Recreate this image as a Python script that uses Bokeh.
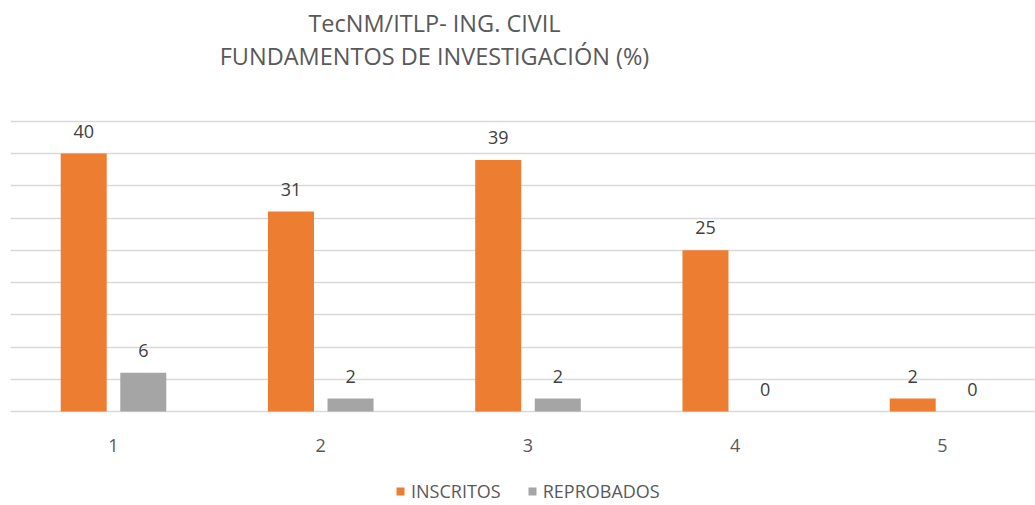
from bokeh.plotting import figure
from bokeh.models import (ColumnDataSource, LabelSet, Label, Legend, LegendItem,
                          FixedTicker, Range1d)
from bokeh.core.properties import value
from bokeh.embed import file_html
from bokeh.resources import INLINE

categories = ["1", "2", "3", "4", "5"]
inscritos = [40, 31, 39, 25, 2]
reprobados = [6, 2, 2, 0, 0]
series_names = ["INSCRITOS", "REPROBADOS"]
title_lines = ["TecNM/ITLP- ING. CIVIL", "FUNDAMENTOS DE INVESTIGACIÓN (%)"]
grid_ticks = [0, 5, 10, 15, 20, 25, 30, 35, 40, 45]

FONT = "Open Sans"
ORANGE = "#ED7D31"
GRAY = "#A5A5A5"
TXT = "#595959"

xs = [i + 1 for i in range(len(categories))]
off = 0.1437
bw = 0.222
PX = 6.45  # pixels per unit (vertical)

src = ColumnDataSource(dict(
    x1=[x - off for x in xs], x2=[x + off for x in xs],
    ins=inscritos, rep=reprobados,
    ins_t=[str(v) for v in inscritos], rep_t=[str(v) for v in reprobados],
))

p = figure(width=1035, height=505, output_backend="svg", toolbar_location=None,
           x_range=Range1d(0.503, 0.503 + 1025 / 207.25),
           y_range=Range1d(-94 / PX, 411 / PX),
           min_border_left=10, min_border_right=0, min_border_top=0,
           min_border_bottom=0)
p.outline_line_color = None
p.background_fill_color = "white"
p.border_fill_color = "white"
p.xaxis.visible = False
p.yaxis.visible = False
p.xgrid.visible = False
p.ygrid.ticker = FixedTicker(ticks=grid_ticks)
p.ygrid.grid_line_color = "#D9D9D9"
p.ygrid.grid_line_width = 1.5

r1 = p.vbar(x="x1", top="ins", width=bw, source=src, fill_color=ORANGE, line_color=None)
r2 = p.vbar(x="x2", top="rep", width=bw, source=src, fill_color=GRAY, line_color=None)

for col_x, col_y, col_t in [("x1", "ins", "ins_t"), ("x2", "rep", "rep_t")]:
    p.add_layout(LabelSet(x=col_x, y=col_y, text=col_t, source=src, y_offset=16,
                          text_align="center", text_baseline="alphabetic",
                          text_font=value(FONT), text_font_size=value("18px"),
                          text_color=value("#404040")))

# category labels under the baseline
p.text(x=xs, y=[-34 / PX] * len(xs), text=categories, text_align="center",
       text_baseline="middle", text_font=value(FONT), text_font_size=value("18px"),
       text_color=TXT)

tx = 1 + (434 - 113) / 207.25
for line, yv in zip(title_lines, [(411 - 22) / PX, (411 - 55) / PX]):
    p.add_layout(Label(x=tx, y=yv, text=line, text_align="center", text_baseline="middle",
                       text_font=FONT, text_font_size="23.5px", text_color=TXT))

legend = Legend(items=[LegendItem(label=series_names[0], renderers=[r1]),
                       LegendItem(label=series_names[1], renderers=[r2])],
                orientation="horizontal", location=(385, 2),
                glyph_width=10, glyph_height=10, label_standoff=6, spacing=26,
                label_text_font=FONT, label_text_font_size="18px", label_text_color=TXT,
                border_line_color=None, background_fill_alpha=0, padding=0, margin=0)
p.add_layout(legend, "center")

open("out.html", "w").write(file_html(p, INLINE))
